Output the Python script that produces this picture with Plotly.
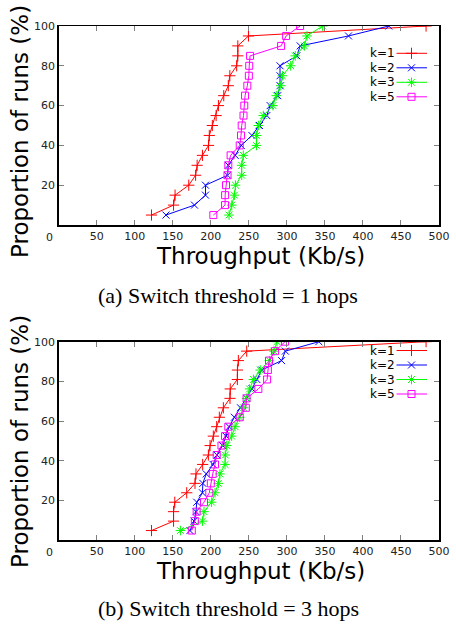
import plotly.graph_objects as go

W, H = 456, 626

# ---------------- data ----------------
x_ticks = [50, 100, 150, 200, 250, 300, 350, 400, 450, 500]
x_tick_labels = ["50", "100", "150", "200", "250", "300", "350", "400", "450", "500"]
y_ticks = [20, 40, 60, 80, 100]
y_tick_labels = ["20", "40", "60", "80", "100"]

series_names = ["k=1", "k=2", "k=3", "k=5"]

# (a) Switch threshold = 1 hops  -- CDF, 20 runs
pct_a = [5, 10, 15, 20, 25, 30, 35, 40, 45, 50, 55, 60, 65, 70, 75, 80, 85, 90, 95, 100]
a_k1 = [122, 151, 153, 171, 180, 182, 189, 197, 198, 202, 207, 210, 217, 223, 225, 234, 235.5, 235.5, 249.5, 483]
a_k2 = [141, 178.5, 193, 193, 222, 223, 232, 240, 254, 264, 273.6, 278, 288, 291, 291, 291, 313, 317.5, 381, 434]
a_k3 = [224, 227.5, 231, 232.5, 240.6, 240.6, 242.8, 260, 260.2, 262.5, 269, 281.7, 286, 292, 294, 305, 311, 323, 326.5, 347]
a_k5 = [203.3, 218.7, 218.8, 220, 222, 223, 226, 238, 239.7, 240.6, 243, 244, 245, 248, 250, 250.5, 251.6, 292.4, 299, 317.4]

# (b) Switch threshold = 3 hops  -- CDF, 21 runs
pct_b = [4.76, 9.52, 14.29, 19.05, 23.81, 28.57, 33.33, 38.1, 42.86, 47.62, 52.38,
         57.14, 61.9, 66.67, 71.43, 76.19, 80.95, 85.71, 90.48, 95.24, 100]
b_k1 = [122, 151, 151, 152.6, 168.3, 179.2, 180.5, 189.3, 196.8, 199, 203.3,
        207.7, 211.2, 216.5, 225.2, 225.5, 234.9, 235, 236.2, 247.2, 483]
b_k2 = [172.6, 178, 180.5, 181.5, 189, 189.5, 194, 203, 208, 215.5, 220,
        224, 231, 239, 247, 254, 260.5, 267, 293, 298, 342]
b_k3 = [160, 189, 191, 201, 205.5, 210, 212, 218.7, 219, 221, 227.4,
        231.8, 238, 243, 247, 251, 256, 265, 277, 283, 287]
b_k5 = [175, 179, 181.4, 191, 198, 200, 202.5, 205.5, 207.7, 214, 218.7,
        223, 238, 246, 247, 262.5, 274, 275, 276.5, 284.5, 297.6]

# ---------------- styles ----------------
colors = ["#ff0000", "#0000ff", "#00ff00", "#ff00ff"]
symbols = ["cross-thin-open", "x-thin-open", "asterisk-open", "square-open"]
msizes = [8, 7, 8, 7]
SANS = "DejaVu Sans"
SERIF = "Liberation Serif"


def px(x):
    return x / W


def py(y):
    return 1 - y / H


# plot areas in pixels
X0, X1 = 58.7, 439.0
A_TOP, A_BOT = 26.0, 225.0
B_TOP, B_BOT = 341.7, 540.0

fig = go.Figure()

panels = [
    ("x", "y", pct_a, [a_k1, a_k2, a_k3, a_k5]),
    ("x2", "y2", pct_b, [b_k1, b_k2, b_k3, b_k5]),
]
for xa, ya, pct, vals in panels:
    for i, v in enumerate(vals):
        fig.add_trace(go.Scatter(
            x=v, y=pct, xaxis=xa, yaxis=ya, mode="lines+markers",
            name=series_names[i], showlegend=False,
            line=dict(color=colors[i], width=1),
            marker=dict(symbol=symbols[i], size=msizes[i], color=colors[i],
                        line=dict(color=colors[i], width=1)),
        ))

# legend samples (gnuplot style: text then line sample), drawn on a pixel overlay axis
legend_rows = {
    "a": [53.3, 67.8, 82.3, 96.8],
    "b": [350.5, 365.0, 379.5, 394.0],
}
LX0, LX1, LXM = 396.5, 427.0, 411.5
for key, rows in legend_rows.items():
    for i, yy in enumerate(rows):
        fig.add_trace(go.Scatter(
            x=[LX0, LX1], y=[yy, yy], xaxis="x3", yaxis="y3", mode="lines",
            showlegend=False, hoverinfo="skip",
            line=dict(color=colors[i], width=1)))
        fig.add_trace(go.Scatter(
            x=[LXM], y=[yy], xaxis="x3", yaxis="y3", mode="markers",
            showlegend=False, hoverinfo="skip",
            marker=dict(symbol=symbols[i], size=msizes[i], color=colors[i],
                        line=dict(color=colors[i], width=1))))
        fig.add_annotation(x=px(LX0 - 0.5), y=py(yy), xref="paper", yref="paper",
                           text=series_names[i], showarrow=False, borderpad=0,
                           xanchor="right", yanchor="middle",
                           font=dict(family=SANS, size=12, color="black"))

axis_common = dict(
    showgrid=False, zeroline=False, showline=True, linecolor="black", linewidth=1.5,
    mirror="ticks", ticks="inside", ticklen=5, tickcolor="#808080", tickwidth=1,
    automargin=False,
    tickfont=dict(family=SANS, size=11, color="#222222"),
)

layout = dict(
    width=W, height=H,
    margin=dict(l=0, r=0, t=0, b=0, pad=0, autoexpand=False),
    paper_bgcolor="white", plot_bgcolor="rgba(0,0,0,0)",
    showlegend=False,
    xaxis=dict(domain=[px(X0), px(X1)], range=[0, 500], anchor="y",
               tickvals=x_ticks, ticktext=x_tick_labels, **axis_common),
    yaxis=dict(domain=[py(A_BOT), py(A_TOP)], range=[0, 100], anchor="x",
               tickvals=y_ticks, ticktext=y_tick_labels, **axis_common),
    xaxis2=dict(domain=[px(X0), px(X1)], range=[0, 500], anchor="y2",
                tickvals=x_ticks, ticktext=x_tick_labels, **axis_common),
    yaxis2=dict(domain=[py(B_BOT), py(B_TOP)], range=[0, 100], anchor="x2",
                tickvals=y_ticks, ticktext=y_tick_labels, **axis_common),
    xaxis3=dict(domain=[0, 1], range=[0, W], visible=False, anchor="y3",
                fixedrange=True, automargin=False),
    yaxis3=dict(domain=[0, 1], range=[H, 0], visible=False, anchor="x3",
                fixedrange=True, automargin=False),
)
fig.update_layout(**layout)

# "0" origin labels, axis titles, captions
for bot, xt_y, yt_y, cap_y, cap in [
    (A_BOT, 256, 132, 295, "(a) Switch threshold = 1 hops"),
    (B_BOT, 571, 442, 608, "(b) Switch threshold = 3 hops"),
]:
    fig.add_annotation(x=px(49), y=py(bot + 12), xref="paper", yref="paper", text="0",
                       showarrow=False, xanchor="center", yanchor="middle",
                       font=dict(family=SANS, size=11, color="#222222"))
    fig.add_annotation(x=px(260), y=py(xt_y), xref="paper", yref="paper",
                       text="Throughput (Kb/s)", showarrow=False,
                       xanchor="center", yanchor="middle",
                       font=dict(family=SANS, size=23, color="black"))
    fig.add_annotation(x=px(20), y=py(yt_y), xref="paper", yref="paper",
                       text="Proportion of runs (%)", showarrow=False, textangle=-90,
                       xanchor="center", yanchor="middle",
                       font=dict(family=SANS, size=23, color="black"))
    fig.add_annotation(x=px(228), y=py(cap_y), xref="paper", yref="paper",
                       text=cap, showarrow=False, xanchor="center", yanchor="middle",
                       font=dict(family=SERIF, size=22, color="black"))

fig.write_html(
    "out.html",
    config={"displayModeBar": False, "staticPlot": True},
    post_script="document.body.style.margin='0';document.body.style.overflow='hidden';",
)
